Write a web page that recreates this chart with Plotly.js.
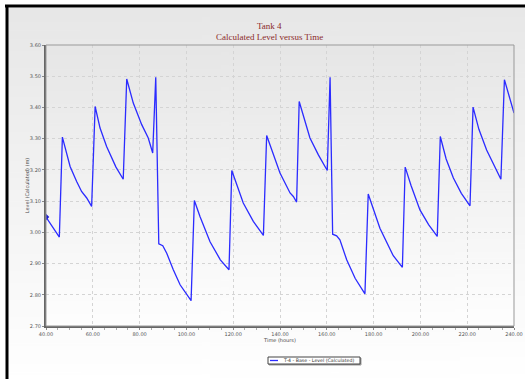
<!DOCTYPE html>
<html><head><meta charset="utf-8">
<script src="https://cdn.plot.ly/plotly-3.0.1.min.js"></script>
<style>html,body{margin:0;padding:0;background:#fff;}#chart{width:525px;height:379px;}</style>
</head><body><div id="chart"></div>
<script>
const timeHours = [40, 45.7, 47.0, 50.3, 53.1, 55.2, 57.4, 59.5, 61.0, 63.1, 65.9, 69.9, 73.0, 74.5, 77.3, 80.9, 83.7, 85.6, 86.9, 88.2, 89.9, 91.6, 94.4, 97.3, 102.0, 103.4, 105.8, 110.1, 114.5, 118.2, 119.4, 124.3, 128.6, 132.9, 134.3, 140.0, 144.3, 145.7, 147.1, 148.2, 152.8, 156.4, 160.2, 161.4, 162.5, 164.2, 165.6, 168.5, 172.1, 176.3, 177.7, 182.7, 188.4, 192.3, 193.5, 196.0, 199.8, 203.5, 207.2, 208.5, 211.0, 214.1, 217.5, 221.2, 222.5, 225.0, 228.3, 231.5, 234.4, 235.9, 240];
const levelM = [3.049, 2.985, 3.305, 3.211, 3.163, 3.131, 3.110, 3.083, 3.403, 3.334, 3.275, 3.209, 3.170, 3.491, 3.414, 3.345, 3.302, 3.254, 3.497, 2.963, 2.957, 2.933, 2.880, 2.832, 2.781, 3.102, 3.051, 2.970, 2.912, 2.880, 3.198, 3.094, 3.035, 2.990, 3.310, 3.190, 3.126, 3.115, 3.097, 3.419, 3.302, 3.248, 3.198, 3.497, 2.994, 2.989, 2.976, 2.912, 2.853, 2.803, 3.123, 3.013, 2.925, 2.888, 3.209, 3.150, 3.072, 3.025, 2.987, 3.307, 3.235, 3.174, 3.125, 3.085, 3.401, 3.330, 3.264, 3.215, 3.170, 3.489, 3.382];
const seriesName = 'T-4 - Base - Level (Calculated)';
const titleLines = ['Tank 4', 'Calculated Level versus Time'];

function grad(c1, c2) {
  const cv = document.createElement('canvas');
  cv.width = 4; cv.height = 256;
  const ctx = cv.getContext('2d');
  const g = ctx.createLinearGradient(0, 0, 0, 256);
  g.addColorStop(0, c1); g.addColorStop(1, c2);
  ctx.fillStyle = g; ctx.fillRect(0, 0, 4, 256);
  return cv.toDataURL();
}

const W = 525, H = 379, L = 46, R = 11, T = 45, B = 53;
const pw = W - L - R, ph = H - T - B;
const px = v => (v - L) / pw;
const py = v => (H - B - v) / ph;
const lineColor = '#2b2bff';

const trace = {
  x: timeHours, y: levelM, type: 'scatter', mode: 'lines', name: seriesName, showlegend: false,
  line: {color: lineColor, width: 1.3}
};
const startMarker = {
  x: [timeHours[0]], y: [levelM[0]], type: 'scatter', mode: 'markers', showlegend: false,
  marker: {color: '#1a1ad0', size: 5, symbol: 'diamond'}, hoverinfo: 'skip'
};

const tickFont = {family: 'DejaVu Sans', size: 5, color: '#555'};
const layout = {
  width: W, height: H,
  margin: {l: L, r: R, t: T, b: B},
  paper_bgcolor: '#ffffff', plot_bgcolor: 'rgba(0,0,0,0)',
  showlegend: false,
  xaxis: {
    range: [40, 240], tickvals: [40, 60, 80, 100, 120, 140, 160, 180, 200, 220, 240],
    tickformat: '.2f', tickfont: tickFont,
    ticks: 'outside', ticklen: 2, tickcolor: '#888',
    minor: {dtick: 5, ticks: 'outside', ticklen: 2, tickcolor: '#aaa', showgrid: false},
    showgrid: true, gridcolor: '#d4d4d4', griddash: 'dot', gridwidth: 1,
    showline: true, linecolor: '#666', linewidth: 2, zeroline: false,
    title: {text: 'Time (hours)', font: {family: 'DejaVu Sans', size: 5, color: '#444'}, standoff: 1}
  },
  yaxis: {
    range: [2.70, 3.60], dtick: 0.1, tick0: 2.7,
    tickformat: '.2f', tickfont: tickFont,
    ticks: 'outside', ticklen: 2, tickcolor: '#888',
    showgrid: true, gridcolor: '#d4d4d4', griddash: 'dot', gridwidth: 1,
    showline: true, linecolor: '#666', linewidth: 2, zeroline: false,
    title: {text: 'Level (Calculated) (m)', font: {family: 'DejaVu Sans', size: 5, color: '#444'}, standoff: 0}
  },
  annotations: [
    {text: titleLines[0], xref: 'paper', yref: 'paper', x: px(269), y: py(26.5), xanchor: 'center', yanchor: 'middle',
     showarrow: false, font: {family: 'Liberation Serif', size: 9, color: '#8b2a2a'}},
    {text: titleLines[1], xref: 'paper', yref: 'paper', x: px(269), y: py(36.5), xanchor: 'center', yanchor: 'middle',
     showarrow: false, font: {family: 'Liberation Serif', size: 9, color: '#8b2a2a'}},
    {text: seriesName, xref: 'paper', yref: 'paper', x: px(281), y: py(360.5), xanchor: 'left', yanchor: 'middle',
     showarrow: false, font: {family: 'DejaVu Sans', size: 4.7, color: '#333'}}
  ],
  shapes: [
    {type: 'rect', xref: 'paper', yref: 'paper', x0: 0, x1: 1, y0: 0, y1: 1, line: {color: '#999', width: 1}, layer: 'above'},
    {type: 'line', xref: 'paper', yref: 'paper', x0: px(5), x1: px(525), y0: py(6), y1: py(6), line: {color: '#000', width: 3}},
    {type: 'line', xref: 'paper', yref: 'paper', x0: px(7), x1: px(7), y0: py(5), y1: py(379), line: {color: '#000', width: 3}},
    {type: 'rect', xref: 'paper', yref: 'paper', x0: px(269), x1: px(361), y0: py(365), y1: py(358), line: {color: '#999', width: 1}, fillcolor: '#999'},
    {type: 'rect', xref: 'paper', yref: 'paper', x0: px(268), x1: px(360), y0: py(364), y1: py(357), line: {color: '#444', width: 1}, fillcolor: '#ffffff'},
    {type: 'line', xref: 'paper', yref: 'paper', x0: px(270), x1: px(278), y0: py(360.5), y1: py(360.5), line: {color: lineColor, width: 1.3}}
  ],
  images: [
    {source: grad('#e7e7e7', '#ffffff'), xref: 'paper', yref: 'paper', x: px(8), y: py(8), sizex: (525 - 8) / pw, sizey: (379 - 8) / ph,
     xanchor: 'left', yanchor: 'top', sizing: 'stretch', layer: 'below'},
    {source: grad('#e6e6e6', '#fefefe'), xref: 'paper', yref: 'paper', x: 0, y: 1, sizex: 1, sizey: 1,
     xanchor: 'left', yanchor: 'top', sizing: 'stretch', layer: 'below'}
  ]
};

Plotly.newPlot('chart', [trace, startMarker], layout, {displayModeBar: false, staticPlot: true});
</script></body></html>
